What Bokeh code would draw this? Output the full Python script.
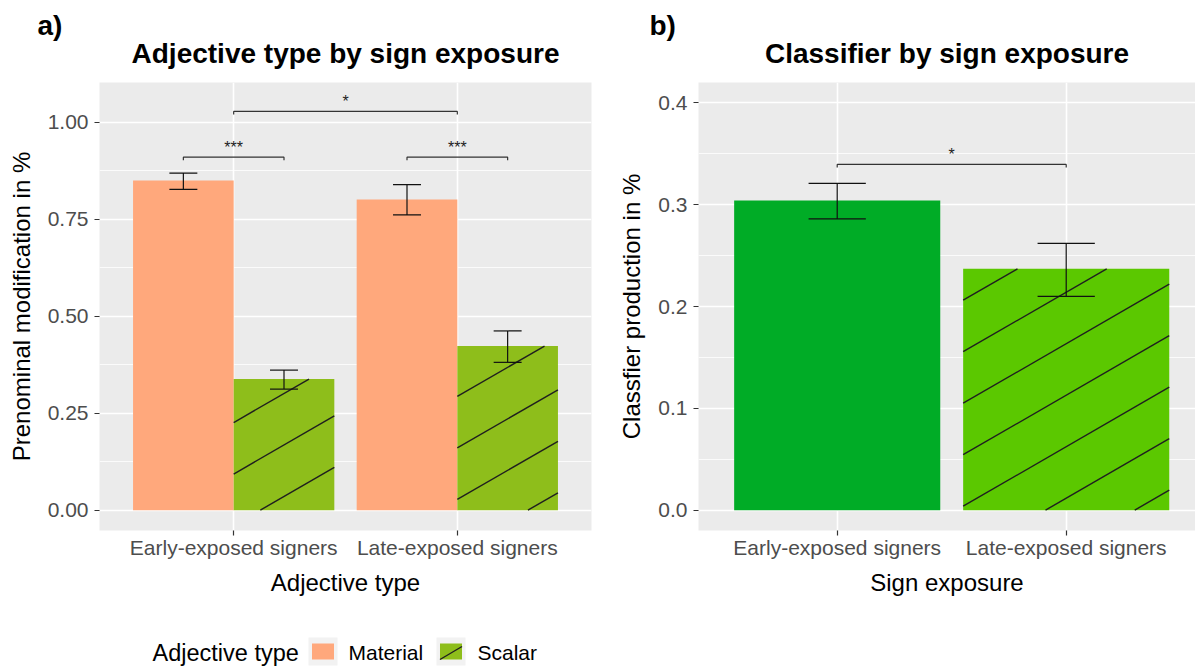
import math
from bokeh.plotting import figure
from bokeh.models import Range1d, FixedTicker, Title, ColumnDataSource
from bokeh.layouts import row, column
from bokeh.embed import file_html
from bokeh.resources import INLINE
from bokeh.core.properties import value

# ---------------- data ----------------
groups = ["Early-exposed signers", "Late-exposed signers"]
adj_types = ["Material", "Scalar"]
material_mean = [0.850, 0.801]
material_lo = [0.827, 0.761]
material_hi = [0.869, 0.839]
scalar_mean = [0.338, 0.423]
scalar_lo = [0.312, 0.381]
scalar_hi = [0.361, 0.462]
classifier_mean = [0.304, 0.237]
classifier_lo = [0.286, 0.210]
classifier_hi = [0.321, 0.262]

left_yticks = [0.0, 0.25, 0.5, 0.75, 1.0]
left_ytick_labels = ["0.00", "0.25", "0.50", "0.75", "1.00"]
left_yminor = [0.125, 0.375, 0.625, 0.875]
right_yticks = [0.0, 0.1, 0.2, 0.3, 0.4]
right_ytick_labels = ["0.0", "0.1", "0.2", "0.3", "0.4"]
right_yminor = [0.05, 0.15, 0.25, 0.35]

# significance brackets
adj_sig_y = [0.910, 0.910, 1.028]
adj_sig_lab = ["***", "***", "*"]
cls_sig_y = [0.3395]
cls_sig_lab = ["*"]

# ---------------- style ----------------
FONT = "Liberation Sans"
MAT = "#FFA87C"
SCA = "#8EBE1B"
EARLY_G = "#00AC26"
LATE_G = "#5BC800"
BG = "#EBEBEB"
H = 620
FRAME_H = 448
pos = [1, 2]
dodge = 0.225


def base_fig(width, xr, yr, bl, br, xlabel, ylabel, yticks, ylabels, yminor):
    p = figure(width=width, height=H, title=None,
               x_range=Range1d(*xr), y_range=Range1d(*yr),
               output_backend="svg", toolbar_location=None,
               min_border_left=bl, min_border_right=br,
               min_border_top=82, min_border_bottom=90)
    p.background_fill_color = BG
    p.border_fill_color = "white"
    p.outline_line_color = None
    xt = FixedTicker(ticks=pos)
    yt = FixedTicker(ticks=yticks, minor_ticks=yminor)
    p.xaxis.ticker = xt
    p.yaxis.ticker = yt
    p.xgrid.ticker = xt
    p.ygrid.ticker = yt
    p.xaxis.major_label_overrides = {float(v): g for v, g in zip(pos, groups)}
    p.yaxis.major_label_overrides = {float(v): l for v, l in zip(yticks, ylabels)}
    p.xgrid.grid_line_color = "white"
    p.xgrid.grid_line_width = 1.6
    p.ygrid.grid_line_color = "white"
    p.ygrid.grid_line_width = 1.6
    p.ygrid.minor_grid_line_color = "white"
    p.ygrid.minor_grid_line_width = 0.8
    for ax in (p.xaxis[0], p.yaxis[0]):
        ax.axis_line_color = None
        ax.major_tick_line_color = "#333333"
        ax.major_tick_line_width = 1.2
        ax.major_tick_in = 0
        ax.major_tick_out = 5
        ax.minor_tick_line_color = None
        ax.major_label_text_font = FONT
        ax.major_label_text_font_size = "21px"
        ax.major_label_text_color = "#4D4D4D"
        ax.axis_label_text_font = FONT
        ax.axis_label_text_font_size = "24px"
        ax.axis_label_text_font_style = "normal"
        ax.axis_label_text_color = "black"
    p.xaxis.axis_label = xlabel
    p.yaxis.axis_label = ylabel
    p.yaxis.major_label_standoff = 6
    p.xaxis.major_label_standoff = 0
    p.yaxis.axis_label_standoff = 10
    p.xaxis.axis_label_standoff = 7
    return p


def add_titles(p, main, tag, main_offset, tag_offset):
    p.add_layout(Title(text=main, align="center", offset=main_offset,
                       text_font=FONT, text_font_size="28px",
                       text_font_style="bold", text_color="black", standoff=28), "above")
    p.add_layout(Title(text=tag, align="left", offset=tag_offset,
                       text_font=FONT, text_font_size="28px",
                       text_font_style="bold", text_color="black", standoff=-38), "above")


def hatch(p, xl, xr, yb, yt, xrange, yrange, fw, phase, spacing=51.5, angle=30):
    sx = fw / (xrange[1] - xrange[0])
    sy = FRAME_H / (yrange[1] - yrange[0])
    m = math.tan(math.radians(angle))
    x0s, y0s, x1s, y1s = [], [], [], []
    for a, b, c, d in zip(xl, xr, yb, yt):
        pl, pr = (a - xrange[0]) * sx, (b - xrange[0]) * sx
        pb, pt = (c - yrange[0]) * sy, (d - yrange[0]) * sy
        kmin = math.floor((pb - m * pr - phase) / spacing) - 1
        kmax = math.ceil((pt - m * pl - phase) / spacing) + 1
        for k in range(kmin, kmax + 1):
            bb = phase + k * spacing
            xa = max(pl, (pb - bb) / m)
            xb = min(pr, (pt - bb) / m)
            if xb > xa + 0.5:
                x0s.append(xrange[0] + xa / sx)
                y0s.append(yrange[0] + (bb + m * xa) / sy)
                x1s.append(xrange[0] + xb / sx)
                y1s.append(yrange[0] + (bb + m * xb) / sy)
    p.segment(x0=x0s, y0=y0s, x1=x1s, y1=y1s, line_color="#1f1f1f", line_width=1.4)


def errbars(p, x, lo, hi, cap):
    p.segment(x0=x, x1=x, y0=lo, y1=hi, line_color="#111111", line_width=1.2)
    xs0 = [v - cap / 2 for v in x]
    xs1 = [v + cap / 2 for v in x]
    p.segment(x0=xs0, x1=xs1, y0=lo, y1=lo, line_color="#111111", line_width=1.2)
    p.segment(x0=xs0, x1=xs1, y0=hi, y1=hi, line_color="#111111", line_width=1.2)


def brackets(p, x0, x1, y, labels, tip):
    xs = [[a, a, b, b] for a, b in zip(x0, x1)]
    ys = [[v - tip, v, v, v - tip] for v in y]
    p.multi_line(xs=xs, ys=ys, line_color="#333333", line_width=1.2)
    xm = [(a + b) / 2 for a, b in zip(x0, x1)]
    p.text(x=xm, y=y, text=labels, text_align="center", text_baseline="middle",
           y_offset=-10, text_font=value(FONT), text_font_size="16px", text_color="#222222")


# ---------------- panel a ----------------
LXR = (0.4, 2.6)
LYR = (-0.0525, 1.1025)
pa = base_fig(600, LXR, LYR, 99, 9, "Adjective type", "Prenominal modification in %",
              left_yticks, left_ytick_labels, left_yminor)
add_titles(pa, "Adjective type by sign exposure", "a)", 0, -62)

mat_x = [v - dodge for v in pos]
sca_x = [v + dodge for v in pos]
pa.vbar(x=mat_x, top=material_mean, bottom=0, width=0.45, fill_color=MAT, line_color=None)
pa.vbar(x=sca_x, top=scalar_mean, bottom=0, width=0.45, fill_color=SCA, line_color=None)
hatch(pa, [v - 0.225 for v in sca_x], [v + 0.225 for v in sca_x], [0, 0], scalar_mean,
      LXR, LYR, 492, 30.5)
errbars(pa, mat_x, material_lo, material_hi, 0.125)
errbars(pa, sca_x, scalar_lo, scalar_hi, 0.125)
brackets(pa, [mat_x[0], mat_x[1], pos[0]], [sca_x[0], sca_x[1], pos[1]],
         adj_sig_y, adj_sig_lab, 0.008)

# ---------------- panel b ----------------
RXR = (0.3943, 2.5646)
RYR = (-0.02, 0.42)
pb = base_fig(595, RXR, RYR, 98, 0, "Sign exposure", "Classfier production in %",
              right_yticks, right_ytick_labels, right_yminor)
add_titles(pb, "Classifier by sign exposure", "b)", 4, -49)
pb.vbar(x=pos, top=classifier_mean, bottom=0, width=0.9,
        fill_color=[EARLY_G, LATE_G], line_color=None)
hatch(pb, [pos[1] - 0.45], [pos[1] + 0.45], [0], [classifier_mean[1]], RXR, RYR, 497, 26)
errbars(pb, pos, classifier_lo, classifier_hi, 0.25)
brackets(pb, [pos[0]], [pos[1]], cls_sig_y, cls_sig_lab, 0.003)

# ---------------- legend ----------------
lg = figure(width=600, height=46, x_range=Range1d(0, 600), y_range=Range1d(0, 46),
            output_backend="svg", toolbar_location=None, min_border=0,
            x_axis_type=None, y_axis_type=None)
lg.outline_line_color = None
lg.grid.visible = False
lg.background_fill_color = "white"
lg.border_fill_color = "white"
cy = 15
key_x = [322.5, 450.5]
lg.rect(x=key_x, y=[cy, cy], width=29, height=28, fill_color="#F2F2F2", line_color=None)
lg.rect(x=key_x, y=[cy, cy], width=22, height=16, fill_color=[MAT, SCA], line_color=None)
lg.segment(x0=[key_x[1] - 11], y0=[cy - 8], x1=[key_x[1] + 11], y1=[cy + 5],
           line_color="#1f1f1f", line_width=1.4)
lg.text(x=[152], y=[cy - 1], text=["Adjective type"], text_baseline="middle",
        text_font=value(FONT), text_font_size="23.5px", text_color="black")
lg.text(x=[348, 477], y=[cy - 1, cy - 1], text=adj_types, text_baseline="middle",
        text_font=value(FONT), text_font_size="21px", text_color="black")

layout = column(row(pa, pb), lg)
open("out.html", "w").write(file_html(layout, INLINE))
